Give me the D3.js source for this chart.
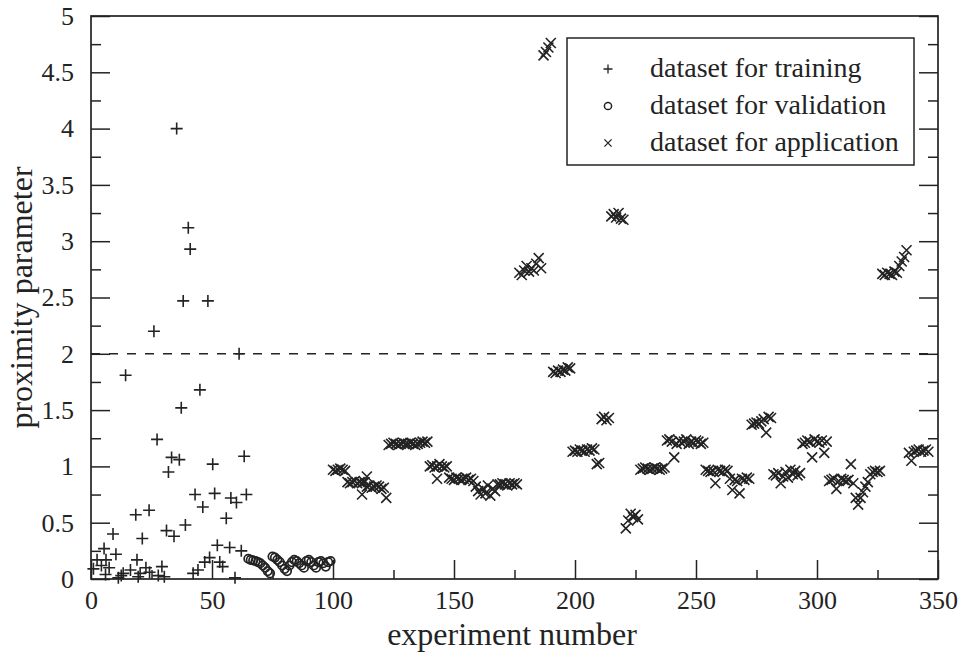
<!DOCTYPE html>
<html><head><meta charset="utf-8">
<script src="https://cdn.jsdelivr.net/npm/d3@7"></script>
<style>body{margin:0;background:#fff}</style>
</head><body><svg id="c" width="960" height="656"></svg>
<script>
// ---- data ----
const trainX=[1,2.5,4.3,5.4,6.2,6,7.5,9.1,10.3,11.3,12.5,13.3,14.3,16.3,18.5,19,19.5,20.3,21.2,22.7,24,24.2,26,27.3,27.8,29.3,30.3,31.2,32,33.3,34.3,35.4,36.5,37.3,38.1,39,40.2,41,42.2,43,44.2,45,46.2,47,48.3,49,50.3,51.1,52.2,53.2,54.4,55.9,57.3,57.8,59.5,60.1,61.2,62.1,63.3,64.2];
const trainY=[0.09,0.17,0.12,0.27,0.17,0.04,0.1,0.4,0.22,0.01,0.03,0.05,1.81,0.08,0.57,0.17,0.02,0.05,0.36,0.1,0.61,0.06,2.2,1.24,0.03,0.11,0.02,0.43,0.95,1.08,0.38,4.0,1.06,1.52,2.47,0.48,3.12,2.93,0.05,0.75,0.08,1.68,0.64,0.15,2.47,0.19,1.02,0.76,0.3,0.15,0.11,0.54,0.28,0.72,0.01,0.68,2.0,0.25,1.09,0.75];

const valX=[65,66,67,68,69,70,71,72,73,74,75,76,77,78,79,80,81,82,83,84,85,86,87,88,89,90,91,92,93,94,95,96,97,98,99];
const valY=[0.18,0.17,0.165,0.16,0.15,0.14,0.12,0.10,0.07,0.05,0.2,0.19,0.17,0.15,0.12,0.09,0.07,0.12,0.15,0.17,0.16,0.14,0.12,0.10,0.16,0.17,0.15,0.12,0.10,0.15,0.16,0.14,0.11,0.15,0.16];

const appX=[100,101,102,103,104,105,
106,107,108,109,110,111,112,113,112,114,
114,115,116,117,118,119,120,121,122,
123,124,125,126,127,128,129,130,131,132,133,134,135,136,137,138,139,
140,141,142,143,144,145,146,147,143,
148,149,150,151,152,153,154,155,156,157,158,
159,160,161,162,163,164,165,166,167,168,
169,170,171,172,173,174,175,176,
177,178,179,180,181,182,183,184,185,186,
187,188,189,190,
191,192,193,194,195,196,197,198,
199,200,201,202,203,204,205,206,207,208,
209,210,
211,212,213,214,
215,216,217,218,219,220,
221,222,223,224,225,226,
227,228,229,230,231,232,233,234,235,236,237,
238,239,240,241,242,243,244,245,246,247,248,249,250,251,252,253,
254,255,256,257,258,259,260,261,262,263,
264,265,266,267,268,269,270,271,272,
273,274,275,276,277,278,279,280,281,
282,283,284,285,286,287,288,289,290,291,292,293,
294,295,296,297,298,299,300,301,302,303,304,
305,306,307,308,309,310,311,312,313,314,
315,316,317,318,319,320,321,322,323,324,325,326,
327,328,329,330,331,332,333,334,335,336,337,
338,339,340,341,342,343,344,345,346];
const appY=[0.97,0.96,0.97,0.98,0.97,0.96,
0.86,0.85,0.86,0.87,0.85,0.86,0.85,0.86,0.75,0.91,
0.82,0.83,0.81,0.82,0.83,0.82,0.80,0.81,0.72,
1.19,1.2,1.21,1.2,1.19,1.2,1.21,1.2,1.2,1.21,1.2,1.19,1.2,1.21,1.22,1.21,1.22,
1.0,1.01,0.99,1.0,1.02,1.0,0.99,1.0,0.89,
0.9,0.89,0.88,0.9,0.89,0.88,0.89,0.9,0.88,0.89,0.87,
0.82,0.78,0.75,0.8,0.76,0.83,0.74,0.8,0.78,0.84,
0.84,0.85,0.84,0.83,0.85,0.84,0.85,0.84,
2.72,2.7,2.74,2.78,2.73,2.76,2.74,2.8,2.85,2.76,
4.65,4.68,4.72,4.76,
1.84,1.83,1.85,1.84,1.86,1.85,1.88,1.87,
1.13,1.14,1.13,1.15,1.14,1.13,1.15,1.14,1.16,1.15,
1.02,1.03,
1.42,1.44,1.41,1.43,
3.22,3.24,3.21,3.25,3.2,3.19,
0.45,0.52,0.58,0.55,0.57,0.53,
0.97,0.98,0.99,0.98,0.97,0.98,0.99,0.98,0.97,0.98,0.99,
1.23,1.24,1.22,1.08,1.2,1.23,1.21,1.22,1.24,1.2,1.22,1.21,1.23,1.22,1.2,1.21,
0.97,0.96,0.95,0.96,0.85,0.97,0.96,0.95,0.97,0.96,
0.89,0.79,0.88,0.87,0.76,0.89,0.88,0.9,0.89,
1.37,1.38,1.39,1.38,1.4,1.42,1.3,1.44,1.43,
0.93,0.92,0.94,0.85,0.91,0.95,0.9,0.97,0.93,0.96,0.92,0.94,
1.2,1.21,1.23,1.22,1.08,1.24,1.22,1.21,1.23,1.12,1.22,
0.87,0.88,0.89,0.8,0.87,0.89,0.88,0.87,0.88,1.02,
0.85,0.72,0.66,0.72,0.77,0.82,0.86,0.93,0.95,0.96,0.95,0.96,
2.71,2.7,2.72,2.71,2.7,2.73,2.72,2.78,2.82,2.86,2.92,
1.12,1.05,1.13,1.14,1.15,1.13,1.14,1.15,1.13];

const xMajor=[0,50,100,150,200,250,300,350];
const xMinor=[25,75,125,175,225,275,325];
const yMajor=[0,0.5,1,1.5,2,2.5,3,3.5,4,4.5,5];
const yMinor=[0.25,0.75,1.25,1.75,2.25,2.75,3.25,3.75,4.25,4.75];
const threshold=[2];
const legendLabels=["dataset for training","dataset for validation","dataset for application"];
const xTitle="experiment number", yTitle="proximity parameter";

// ---- drawing ----
const ink="#232323";
const font="'Liberation Serif','Times New Roman',serif";
const svg=d3.select("#c");
const m={l:91,r:938,t:16,b:579};
const x=d3.scaleLinear().domain([0,350]).range([m.l,m.r]);
const y=d3.scaleLinear().domain([0,5]).range([m.b,m.t]);

function styleAxis(g){g.select(".domain").remove();g.selectAll("line").attr("stroke",ink).attr("stroke-width",1.5);
  g.selectAll("text").attr("font-family",font).attr("font-size",26).attr("fill",ink);}

svg.append("g").attr("transform",`translate(0,${m.b})`).call(d3.axisBottom(x).tickValues(xMajor).tickFormat(d3.format("d")).tickSize(-19).tickPadding(12)).call(styleAxis);
svg.append("g").attr("transform",`translate(0,${m.b})`).call(d3.axisBottom(x).tickValues(xMinor).tickFormat("").tickSize(-9)).call(styleAxis);
svg.append("g").attr("transform",`translate(${m.l},0)`).call(d3.axisLeft(y).tickValues(yMajor).tickFormat(d=>String(d)).tickSize(-19).tickPadding(17)).call(styleAxis);
svg.append("g").attr("transform",`translate(${m.l},0)`).call(d3.axisLeft(y).tickValues(yMinor).tickFormat("").tickSize(-10)).call(styleAxis);
svg.append("g").attr("transform",`translate(${m.r},0)`).call(d3.axisRight(y).tickValues(yMajor).tickFormat("").tickSize(-19)).call(styleAxis);
svg.append("g").attr("transform",`translate(${m.r},0)`).call(d3.axisRight(y).tickValues(yMinor).tickFormat("").tickSize(-10)).call(styleAxis);

svg.append("rect").attr("x",m.l).attr("y",m.t).attr("width",m.r-m.l).attr("height",m.b-m.t)
  .attr("fill","none").attr("stroke",ink).attr("stroke-width",1.7);

// threshold line
svg.selectAll("line.thr").data(threshold).join("line").attr("class","thr")
  .attr("x1",x(0)).attr("x2",x(350)).attr("y1",d=>y(d)).attr("y2",d=>y(d))
  .attr("stroke",ink).attr("stroke-width",1.5).attr("stroke-dasharray","9,9");

const plusPath=s=>`M${-s},0H${s}M0,${-s}V${s}`;
const crossPath=s=>`M${-s},${-s}L${s},${s}M${-s},${s}L${s},${-s}`;

const gT=svg.append("g");
gT.selectAll("path").data(trainX.map((d,i)=>[d,trainY[i]])).join("path")
  .attr("transform",d=>`translate(${x(d[0])},${y(d[1])})`).attr("d",plusPath(6))
  .attr("stroke",ink).attr("stroke-width",1.6).attr("fill","none");
const gV=svg.append("g");
gV.selectAll("circle").data(valX.map((d,i)=>[d,valY[i]])).join("circle")
  .attr("cx",d=>x(d[0])).attr("cy",d=>y(d[1])).attr("r",4.2)
  .attr("stroke",ink).attr("stroke-width",1.7).attr("fill","none");
const gA=svg.append("g");
gA.selectAll("path").data(appX.map((d,i)=>[d,appY[i]])).join("path")
  .attr("transform",d=>`translate(${x(d[0])},${y(d[1])})`).attr("d",crossPath(5))
  .attr("stroke",ink).attr("stroke-width",1.6).attr("fill","none");

// legend
const lg=svg.append("g");
lg.append("rect").attr("x",567).attr("y",38).attr("width",347).attr("height",127)
  .attr("fill","#fff").attr("stroke",ink).attr("stroke-width",1.5);
const rows=[69,106,143];
legendLabels.forEach((t,i)=>{
  const cy=rows[i];
  if(i===0) lg.append("path").attr("transform",`translate(608,${cy})`).attr("d",plusPath(4.5)).attr("stroke",ink).attr("stroke-width",1.3);
  if(i===1) lg.append("circle").attr("cx",608).attr("cy",cy).attr("r",3.6).attr("fill","none").attr("stroke",ink).attr("stroke-width",1.5);
  if(i===2) lg.append("path").attr("transform",`translate(608,${cy})`).attr("d",crossPath(3.6)).attr("stroke",ink).attr("stroke-width",1.3);
  lg.append("text").attr("x",650).attr("y",cy).attr("dy","0.3em").attr("font-family",font).attr("font-size",28).attr("fill",ink).text(t);
});

// titles
svg.append("text").attr("x",512).attr("y",645).attr("text-anchor","middle")
  .attr("font-family",font).attr("font-size",32).attr("fill",ink).text(xTitle);
svg.append("text").attr("transform",`translate(32,${(m.t+m.b)/2}) rotate(-90)`).attr("text-anchor","middle")
  .attr("font-family",font).attr("font-size",32).attr("fill",ink).text(yTitle);
</script></body></html>
